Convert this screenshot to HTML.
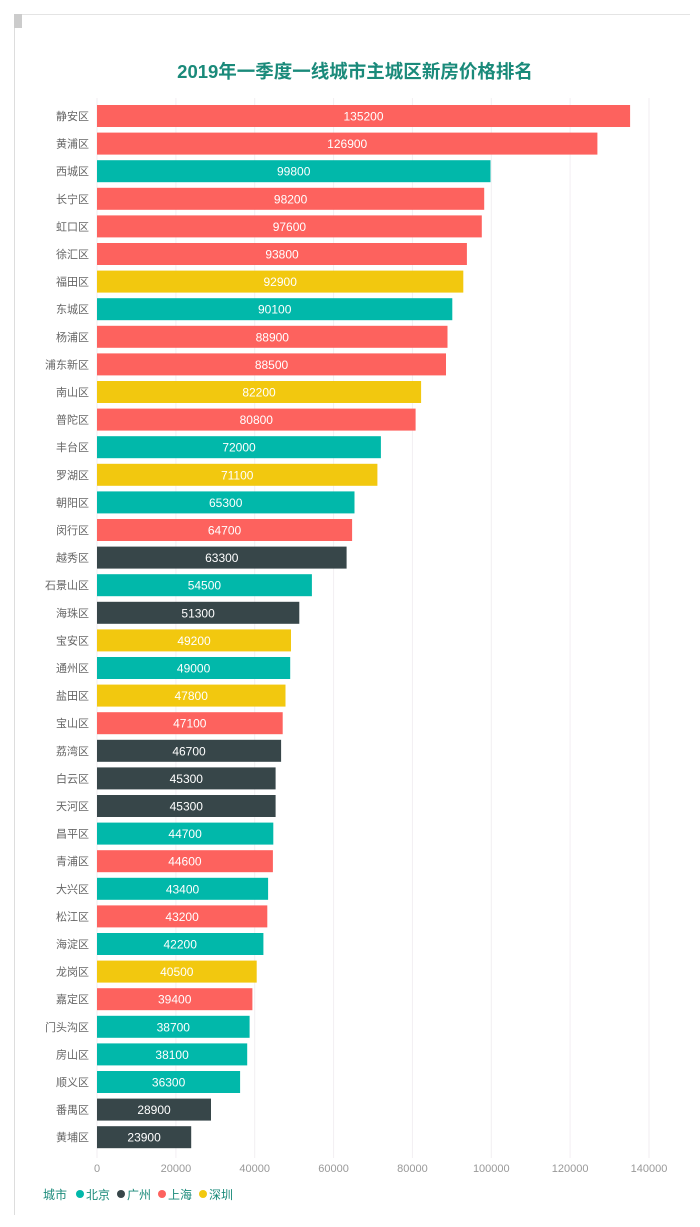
<!DOCTYPE html>
<html><head><meta charset="utf-8"><style>
html,body{margin:0;padding:0;background:#fff;}
svg{display:block;font-family:"Liberation Sans","Noto Sans CJK SC",sans-serif;}
.l{font-size:11px;fill:#666;text-anchor:end}
.v{font-size:12px;fill:#fff;text-anchor:middle}
.t{font-size:11px;fill:#999;text-anchor:middle}
</style></head><body>
<svg width="700" height="1227" viewBox="0 0 700 1227">
<line x1="14.5" y1="14" x2="14.5" y2="1215" stroke="#ddd"/>
<line x1="14" y1="14.5" x2="690" y2="14.5" stroke="#e4e4e4"/>
<rect x="14" y="14" width="8" height="14" fill="#ccc"/>
<text x="355" y="78" text-anchor="middle" font-size="18.5" font-weight="bold" fill="#1a8a7a">2019年一季度一线城市主城区新房价格排名</text>
<g stroke="#f2eef2" stroke-width="1">
<line x1="97" y1="98" x2="97" y2="1158"/><line x1="175.9" y1="98" x2="175.9" y2="1158"/><line x1="254.7" y1="98" x2="254.7" y2="1158"/><line x1="333.6" y1="98" x2="333.6" y2="1158"/><line x1="412.4" y1="98" x2="412.4" y2="1158"/><line x1="491.3" y1="98" x2="491.3" y2="1158"/><line x1="570.1" y1="98" x2="570.1" y2="1158"/><line x1="649" y1="98" x2="649" y2="1158"/>
</g>
<g id="bars">
<g transform="translate(0,105)"><rect x="97" width="533.1" height="22" fill="#fd625e"/><text class="l" x="89" y="15">静安区</text><text class="v" x="363.5" y="15.5">135200</text></g>
<g transform="translate(0,132.6)"><rect x="97" width="500.4" height="22" fill="#fd625e"/><text class="l" x="89" y="15">黄浦区</text><text class="v" x="347.2" y="15.5">126900</text></g>
<g transform="translate(0,160.2)"><rect x="97" width="393.5" height="22" fill="#01b8aa"/><text class="l" x="89" y="15">西城区</text><text class="v" x="293.7" y="15.5">99800</text></g>
<g transform="translate(0,187.8)"><rect x="97" width="387.2" height="22" fill="#fd625e"/><text class="l" x="89" y="15">长宁区</text><text class="v" x="290.6" y="15.5">98200</text></g>
<g transform="translate(0,215.4)"><rect x="97" width="384.8" height="22" fill="#fd625e"/><text class="l" x="89" y="15">虹口区</text><text class="v" x="289.4" y="15.5">97600</text></g>
<g transform="translate(0,243)"><rect x="97" width="369.9" height="22" fill="#fd625e"/><text class="l" x="89" y="15">徐汇区</text><text class="v" x="282" y="15.5">93800</text></g>
<g transform="translate(0,270.6)"><rect x="97" width="366.3" height="22" fill="#f2c80f"/><text class="l" x="89" y="15">福田区</text><text class="v" x="280.2" y="15.5">92900</text></g>
<g transform="translate(0,298.2)"><rect x="97" width="355.3" height="22" fill="#01b8aa"/><text class="l" x="89" y="15">东城区</text><text class="v" x="274.7" y="15.5">90100</text></g>
<g transform="translate(0,325.8)"><rect x="97" width="350.5" height="22" fill="#fd625e"/><text class="l" x="89" y="15">杨浦区</text><text class="v" x="272.3" y="15.5">88900</text></g>
<g transform="translate(0,353.4)"><rect x="97" width="349" height="22" fill="#fd625e"/><text class="l" x="89" y="15">浦东新区</text><text class="v" x="271.5" y="15.5">88500</text></g>
<g transform="translate(0,381)"><rect x="97" width="324.1" height="22" fill="#f2c80f"/><text class="l" x="89" y="15">南山区</text><text class="v" x="259" y="15.5">82200</text></g>
<g transform="translate(0,408.6)"><rect x="97" width="318.6" height="22" fill="#fd625e"/><text class="l" x="89" y="15">普陀区</text><text class="v" x="256.3" y="15.5">80800</text></g>
<g transform="translate(0,436.2)"><rect x="97" width="283.9" height="22" fill="#01b8aa"/><text class="l" x="89" y="15">丰台区</text><text class="v" x="239" y="15.5">72000</text></g>
<g transform="translate(0,463.8)"><rect x="97" width="280.4" height="22" fill="#f2c80f"/><text class="l" x="89" y="15">罗湖区</text><text class="v" x="237.2" y="15.5">71100</text></g>
<g transform="translate(0,491.4)"><rect x="97" width="257.5" height="22" fill="#01b8aa"/><text class="l" x="89" y="15">朝阳区</text><text class="v" x="225.7" y="15.5">65300</text></g>
<g transform="translate(0,519)"><rect x="97" width="255.1" height="22" fill="#fd625e"/><text class="l" x="89" y="15">闵行区</text><text class="v" x="224.5" y="15.5">64700</text></g>
<g transform="translate(0,546.6)"><rect x="97" width="249.6" height="22" fill="#374649"/><text class="l" x="89" y="15">越秀区</text><text class="v" x="221.8" y="15.5">63300</text></g>
<g transform="translate(0,574.2)"><rect x="97" width="214.9" height="22" fill="#01b8aa"/><text class="l" x="89" y="15">石景山区</text><text class="v" x="204.4" y="15.5">54500</text></g>
<g transform="translate(0,601.8)"><rect x="97" width="202.3" height="22" fill="#374649"/><text class="l" x="89" y="15">海珠区</text><text class="v" x="198.1" y="15.5">51300</text></g>
<g transform="translate(0,629.4)"><rect x="97" width="194" height="22" fill="#f2c80f"/><text class="l" x="89" y="15">宝安区</text><text class="v" x="194" y="15.5">49200</text></g>
<g transform="translate(0,657)"><rect x="97" width="193.2" height="22" fill="#01b8aa"/><text class="l" x="89" y="15">通州区</text><text class="v" x="193.6" y="15.5">49000</text></g>
<g transform="translate(0,684.6)"><rect x="97" width="188.5" height="22" fill="#f2c80f"/><text class="l" x="89" y="15">盐田区</text><text class="v" x="191.2" y="15.5">47800</text></g>
<g transform="translate(0,712.2)"><rect x="97" width="185.7" height="22" fill="#fd625e"/><text class="l" x="89" y="15">宝山区</text><text class="v" x="189.8" y="15.5">47100</text></g>
<g transform="translate(0,739.8)"><rect x="97" width="184.1" height="22" fill="#374649"/><text class="l" x="89" y="15">荔湾区</text><text class="v" x="189" y="15.5">46700</text></g>
<g transform="translate(0,767.4)"><rect x="97" width="178.6" height="22" fill="#374649"/><text class="l" x="89" y="15">白云区</text><text class="v" x="186.3" y="15.5">45300</text></g>
<g transform="translate(0,795)"><rect x="97" width="178.6" height="22" fill="#374649"/><text class="l" x="89" y="15">天河区</text><text class="v" x="186.3" y="15.5">45300</text></g>
<g transform="translate(0,822.6)"><rect x="97" width="176.3" height="22" fill="#01b8aa"/><text class="l" x="89" y="15">昌平区</text><text class="v" x="185.1" y="15.5">44700</text></g>
<g transform="translate(0,850.2)"><rect x="97" width="175.9" height="22" fill="#fd625e"/><text class="l" x="89" y="15">青浦区</text><text class="v" x="184.9" y="15.5">44600</text></g>
<g transform="translate(0,877.8)"><rect x="97" width="171.1" height="22" fill="#01b8aa"/><text class="l" x="89" y="15">大兴区</text><text class="v" x="182.5" y="15.5">43400</text></g>
<g transform="translate(0,905.4)"><rect x="97" width="170.3" height="22" fill="#fd625e"/><text class="l" x="89" y="15">松江区</text><text class="v" x="182.1" y="15.5">43200</text></g>
<g transform="translate(0,933)"><rect x="97" width="166.4" height="22" fill="#01b8aa"/><text class="l" x="89" y="15">海淀区</text><text class="v" x="180.2" y="15.5">42200</text></g>
<g transform="translate(0,960.6)"><rect x="97" width="159.7" height="22" fill="#f2c80f"/><text class="l" x="89" y="15">龙岗区</text><text class="v" x="176.8" y="15.5">40500</text></g>
<g transform="translate(0,988.2)"><rect x="97" width="155.4" height="22" fill="#fd625e"/><text class="l" x="89" y="15">嘉定区</text><text class="v" x="174.7" y="15.5">39400</text></g>
<g transform="translate(0,1015.8)"><rect x="97" width="152.6" height="22" fill="#01b8aa"/><text class="l" x="89" y="15">门头沟区</text><text class="v" x="173.3" y="15.5">38700</text></g>
<g transform="translate(0,1043.4)"><rect x="97" width="150.2" height="22" fill="#01b8aa"/><text class="l" x="89" y="15">房山区</text><text class="v" x="172.1" y="15.5">38100</text></g>
<g transform="translate(0,1071)"><rect x="97" width="143.1" height="22" fill="#01b8aa"/><text class="l" x="89" y="15">顺义区</text><text class="v" x="168.6" y="15.5">36300</text></g>
<g transform="translate(0,1098.6)"><rect x="97" width="114" height="22" fill="#374649"/><text class="l" x="89" y="15">番禺区</text><text class="v" x="154" y="15.5">28900</text></g>
<g transform="translate(0,1126.2)"><rect x="97" width="94.2" height="22" fill="#374649"/><text class="l" x="89" y="15">黄埔区</text><text class="v" x="144.1" y="15.5">23900</text></g>
</g>
<g>
<text class="t" x="97" y="1172">0</text><text class="t" x="175.9" y="1172">20000</text><text class="t" x="254.7" y="1172">40000</text><text class="t" x="333.6" y="1172">60000</text><text class="t" x="412.4" y="1172">80000</text><text class="t" x="491.3" y="1172">100000</text><text class="t" x="570.1" y="1172">120000</text><text class="t" x="649" y="1172">140000</text>
</g>
<g font-size="12" fill="#1a8a7a">
<text x="43" y="1199">城市</text>
<circle cx="80" cy="1194" r="4" fill="#01b8aa"/><text x="86" y="1199">北京</text>
<circle cx="121" cy="1194" r="4" fill="#374649"/><text x="127" y="1199">广州</text>
<circle cx="162" cy="1194" r="4" fill="#fd625e"/><text x="168" y="1199">上海</text>
<circle cx="203" cy="1194" r="4" fill="#f2c80f"/><text x="209" y="1199">深圳</text>
</g>
</svg>
</body></html>
